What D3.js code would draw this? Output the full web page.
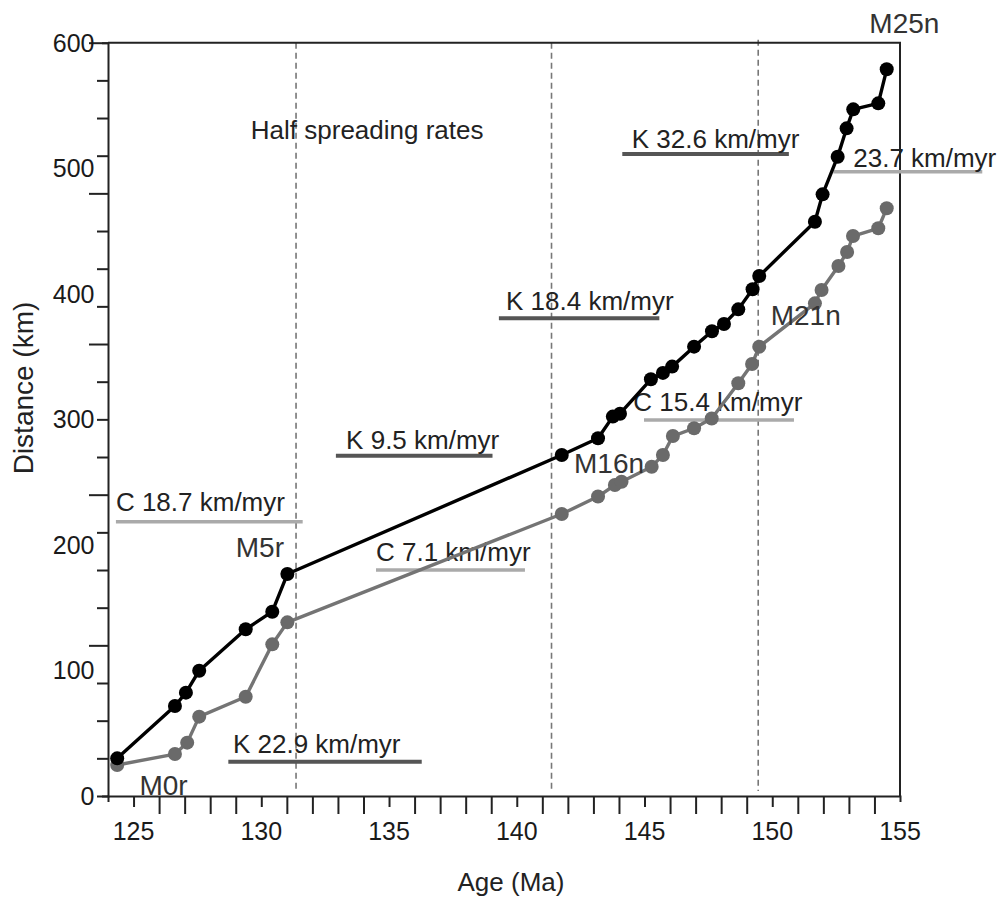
<!DOCTYPE html>
<html>
<head>
<meta charset="utf-8">
<script src="https://cdn.jsdelivr.net/npm/d3@7"></script>
<style>
  html, body { margin: 0; padding: 0; background: #fff; }
  svg { display: block; font-family: "Liberation Sans", Arial, Helvetica, sans-serif; }
</style>
</head>
<body>
<svg id="chart" width="1002" height="897"></svg>
<script>
// ---- Data ----
const blackAge = [124.36,126.62,127.05,127.57,129.39,130.43,131.02,141.76,143.18,143.76,144.04,145.25,145.72,146.08,146.94,147.64,148.11,148.67,149.23,149.49,151.67,151.97,152.56,152.91,153.17,154.15,154.48];
const blackKm  = [30.0,71.7,82.3,99.8,132.8,146.8,176.8,271.6,285.0,302.2,304.5,331.9,337.0,342.0,357.9,370.2,375.9,387.6,403.6,414.2,457.4,479.2,509.2,531.8,546.9,551.7,578.8];

const grayAge = [124.36,126.62,127.10,127.57,129.39,130.43,131.02,141.76,143.18,143.84,144.10,145.28,145.72,146.11,146.94,147.63,148.67,149.21,149.49,151.67,151.93,152.59,152.93,153.16,154.15,154.48];
const grayKm  = [24.7,33.4,42.5,63.2,79.1,120.8,138.3,224.6,238.5,247.7,250.3,262.3,271.6,286.7,292.9,300.7,328.7,344.1,357.9,392.4,403.0,422.1,433.3,446.0,452.2,468.1];

const rateLabels  = ["K 22.9 km/myr","C 18.7 km/myr","C 7.1 km/myr","K 9.5 km/myr","K 18.4 km/myr","K 32.6 km/myr","C 15.4 km/myr","23.7 km/myr"];
const rateKind    = ["K","C","C","K","K","K","C","C"];
const rateStart   = [128.71,124.31,134.49,132.92,139.30,144.13,144.98,152.39];
const rateEnd     = [136.28,131.62,140.32,139.05,145.58,150.65,150.85,158.22];
const rateKm      = [27.3,218.5,180.0,271.0,380.5,511.3,299.5,497.3];
const rateTextAge = [128.89,124.31,134.49,133.32,139.58,144.50,144.56,153.17];
const rateTextKm  = [34.5,227.0,187.0,276.1,387.1,516.4,306.9,501.2];

const chronLabels = ["M0r","M5r","M16n","M21n","M25n"];
const chronAge    = [125.23,129.0,142.24,149.94,153.80];
const chronKm     = [0.8,190.6,257.0,375.1,607.5];

const boundaryAge = [131.36,141.36,149.45];

const xTickValues  = d3.range(125,156,1);
const xLabelValues = [125,130,135,140,145,150,155];
const yTickValues  = d3.range(0,601,30);
const yLabelValues = [0,100,200,300,400,500,600];

const titleText = "Half spreading rates";
const titleAge = 129.59, titleKm = 523.1;
const xTitle = "Age (Ma)";
const yTitle = "Distance (km)";

// ---- Layout ----
const svg = d3.select("#chart");
const x = d3.scaleLinear().domain([124,155]).range([108,900]);
const y = d3.scaleLinear().domain([0,600]).range([796,42.7]);

svg.append("rect").attr("width",1002).attr("height",897).attr("fill","#fff");

// boundary dashed lines
svg.append("g").selectAll("line").data(boundaryAge).join("line")
  .attr("x1", d => x(d)).attr("x2", d => x(d))
  .attr("y1", (d,i) => i === 2 ? y(600) - 3 : y(600)).attr("y2", y(4))
  .attr("stroke","#777").attr("stroke-width",1.6).attr("stroke-dasharray","6,4");

// frame (top and right)
svg.append("path")
  .attr("d", `M${x(124)},${y(600)}H${x(155)}V${y(0)}`)
  .attr("fill","none").attr("stroke","#222").attr("stroke-width",2);

// x axis
const xAxis = svg.append("g").attr("transform",`translate(0,${y(0)})`)
  .call(d3.axisBottom(x).tickValues(xTickValues).tickFormat(""));
xAxis.select(".domain").attr("stroke","#222").attr("stroke-width",2);
xAxis.selectAll(".tick line")
  .attr("stroke","#222").attr("stroke-width",2)
  .attr("y2", d => d === 155 ? 0 : (d % 5 === 0 ? 11 : 18));
svg.append("g").selectAll("text").data(xLabelValues).join("text")
  .attr("x", d => x(d)).attr("y", y(0) + 44)
  .attr("text-anchor","middle").attr("font-size",25).attr("fill","#1a1a1a")
  .text(d => d);

// y axis
const yAxis = svg.append("g").attr("transform",`translate(${x(124)},0)`)
  .call(d3.axisLeft(y).tickValues(yTickValues).tickFormat(""));
yAxis.select(".domain").attr("stroke","#222").attr("stroke-width",2);
yAxis.selectAll(".tick line")
  .attr("stroke","#222").attr("stroke-width",2)
  .attr("x2", d => (d > 0 && d % 120 === 0) ? -19 : -11);
svg.append("g").selectAll("text").data(yLabelValues).join("text")
  .attr("x", x(124) - 13.5).attr("y", d => y(d)).attr("dy","0.36em")
  .attr("text-anchor","end").attr("font-size",25).attr("fill","#1a1a1a")
  .text(d => d);

// axis titles
svg.append("text").attr("x", 511).attr("y", 891)
  .attr("text-anchor","middle").attr("font-size",26).attr("fill","#222").text(xTitle);
svg.append("text").attr("transform","translate(33,388) rotate(-90)")
  .attr("text-anchor","middle").attr("font-size",28).attr("fill","#222").text(yTitle);

// chart title
svg.append("text").attr("x", x(titleAge)).attr("y", y(titleKm))
  .attr("font-size",26).attr("fill","#222").text(titleText);

// rate bars
const rates = rateLabels.map((t,i) => ({t, kind: rateKind[i], a0: rateStart[i], a1: rateEnd[i], km: rateKm[i], ta: rateTextAge[i], tk: rateTextKm[i]}));
svg.append("g").selectAll("line").data(rates).join("line")
  .attr("x1", d => x(d.a0)).attr("x2", d => x(d.a1))
  .attr("y1", d => y(d.km)).attr("y2", d => y(d.km))
  .attr("stroke", d => d.kind === "K" ? "#555" : "#aaa")
  .attr("stroke-width", d => d.kind === "K" ? 4 : 3.5);
svg.append("g").selectAll("text").data(rates).join("text")
  .attr("x", d => x(d.ta)).attr("y", d => y(d.tk))
  .attr("font-size",26).attr("fill","#222").text(d => d.t);

// series
const line = d3.line().x(d => x(d.a)).y(d => y(d.k));
const gray = grayAge.map((a,i) => ({a, k: grayKm[i]}));
const black = blackAge.map((a,i) => ({a, k: blackKm[i]}));

svg.append("path").datum(gray).attr("d", line)
  .attr("fill","none").attr("stroke","#747474").attr("stroke-width",3.4).attr("stroke-linejoin","round");
svg.append("g").selectAll("circle").data(gray).join("circle")
  .attr("cx", d => x(d.a)).attr("cy", d => y(d.k)).attr("r",7).attr("fill","#6a6a6a");

svg.append("path").datum(black).attr("d", line)
  .attr("fill","none").attr("stroke","#000").attr("stroke-width",3.4).attr("stroke-linejoin","round");
svg.append("g").selectAll("circle").data(black).join("circle")
  .attr("cx", d => x(d.a)).attr("cy", d => y(d.k)).attr("r",7).attr("fill","#000");

// chron labels
svg.append("g").selectAll("text").data(chronLabels).join("text")
  .attr("x", (d,i) => x(chronAge[i])).attr("y", (d,i) => y(chronKm[i]))
  .attr("font-size",28).attr("fill","#333").text(d => d);
</script>
</body>
</html>
